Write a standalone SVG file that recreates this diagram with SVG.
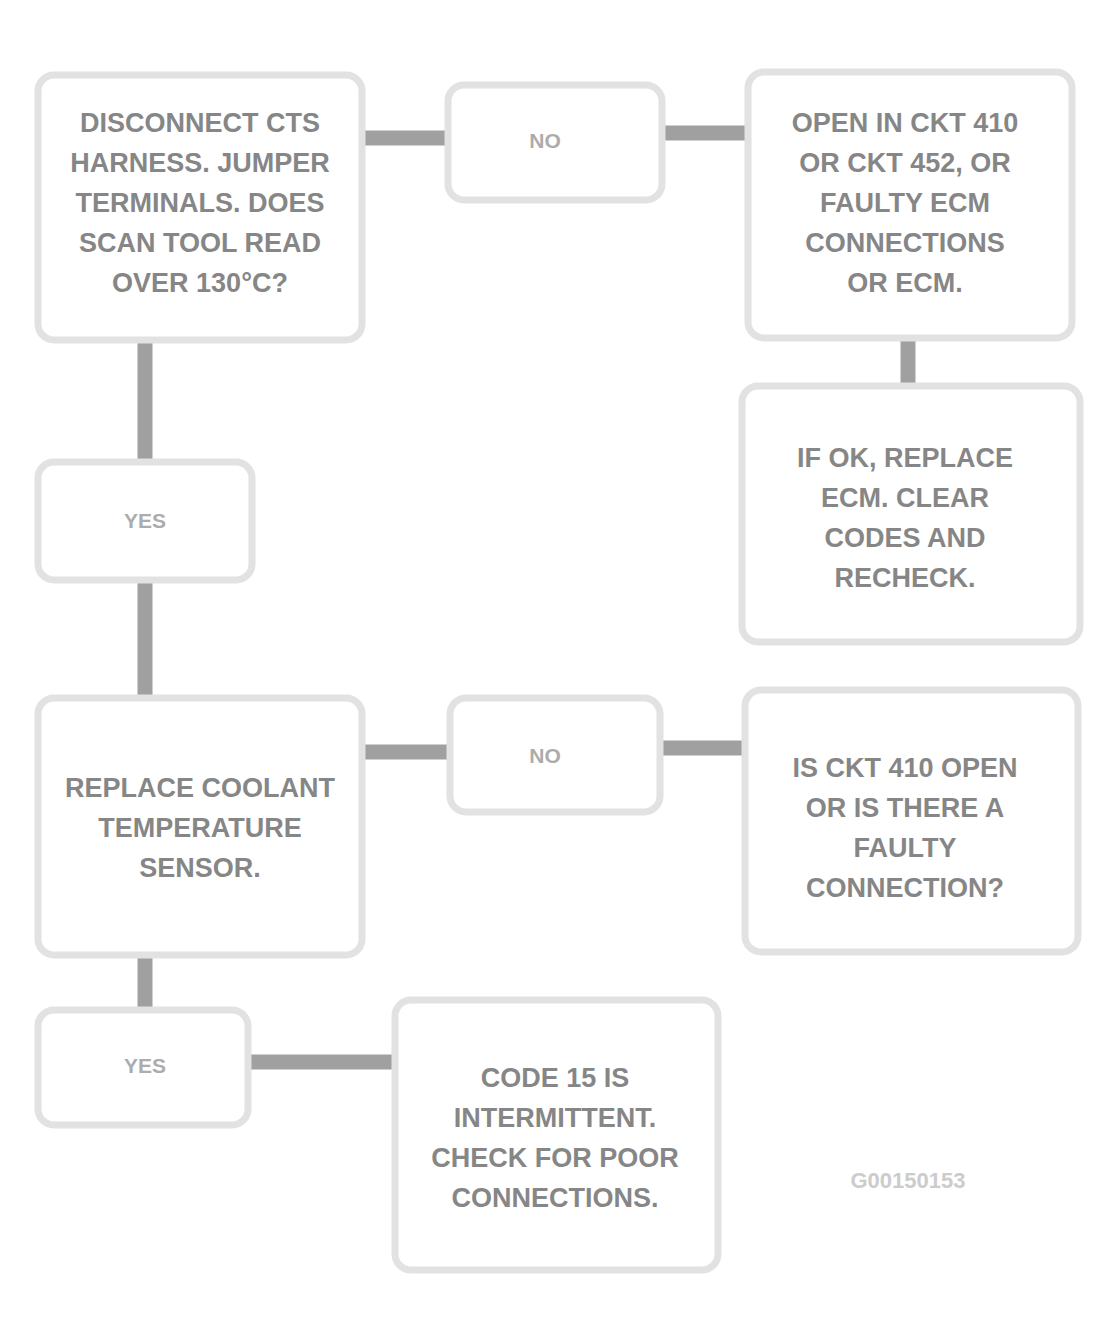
<svg xmlns="http://www.w3.org/2000/svg" width="1109" height="1340" viewBox="0 0 1109 1340">
<defs>
<style>
.box{fill:#ffffff;stroke:#e2e2e2;stroke-width:7}
.conn{stroke:#a0a0a0;stroke-width:15;fill:none}
.t{font-family:"Liberation Sans",Arial,sans-serif;font-weight:bold;font-size:27px;fill:#868686;text-anchor:middle}
.s{font-family:"Liberation Sans",Arial,sans-serif;font-weight:bold;font-size:21px;fill:#acacac;text-anchor:middle}
.lbl{font-family:"Liberation Sans",Arial,sans-serif;font-weight:bold;font-size:22px;fill:#cccccc;text-anchor:middle}
</style>
</defs>
<rect width="1109" height="1340" fill="#ffffff"/>
<g id="connectors">
<line class="conn" x1="362" y1="138" x2="448" y2="138"/>
<line class="conn" x1="662" y1="133" x2="748" y2="133"/>
<line class="conn" x1="908" y1="338" x2="908" y2="386"/>
<line class="conn" x1="145" y1="340" x2="145" y2="462"/>
<line class="conn" x1="145" y1="580" x2="145" y2="698"/>
<line class="conn" x1="362" y1="752" x2="450" y2="752"/>
<line class="conn" x1="660" y1="748" x2="745" y2="748"/>
<line class="conn" x1="145" y1="955" x2="145" y2="1010"/>
<line class="conn" x1="248" y1="1062" x2="395" y2="1062"/>
</g>
<g id="nodeA">
<rect class="box" x="38" y="75" width="324" height="265" rx="16"/>
<text class="t" x="200" y="132">DISCONNECT CTS</text>
<text class="t" x="200" y="172">HARNESS. JUMPER</text>
<text class="t" x="200" y="212">TERMINALS. DOES</text>
<text class="t" x="200" y="252">SCAN TOOL READ</text>
<text class="t" x="200" y="292">OVER 130°C?</text>
</g>
<g id="nodeB">
<rect class="box" x="448" y="85" width="214" height="115" rx="16"/>
<text class="s" x="545" y="148">NO</text>
</g>
<g id="nodeC">
<rect class="box" x="748" y="72" width="324" height="266" rx="16"/>
<text class="t" x="905" y="132">OPEN IN CKT 410</text>
<text class="t" x="905" y="172">OR CKT 452, OR</text>
<text class="t" x="905" y="212">FAULTY ECM</text>
<text class="t" x="905" y="252">CONNECTIONS</text>
<text class="t" x="905" y="292">OR ECM.</text>
</g>
<g id="nodeD">
<rect class="box" x="742" y="386" width="338" height="256" rx="16"/>
<text class="t" x="905" y="467">IF OK, REPLACE</text>
<text class="t" x="905" y="507">ECM. CLEAR</text>
<text class="t" x="905" y="547">CODES AND</text>
<text class="t" x="905" y="587">RECHECK.</text>
</g>
<g id="nodeE">
<rect class="box" x="38" y="462" width="214" height="118" rx="16"/>
<text class="s" x="145" y="528">YES</text>
</g>
<g id="nodeF">
<rect class="box" x="38" y="698" width="324" height="257" rx="16"/>
<text class="t" x="200" y="797">REPLACE COOLANT</text>
<text class="t" x="200" y="837">TEMPERATURE</text>
<text class="t" x="200" y="877">SENSOR.</text>
</g>
<g id="nodeG">
<rect class="box" x="450" y="698" width="210" height="114" rx="16"/>
<text class="s" x="545" y="763">NO</text>
</g>
<g id="nodeH">
<rect class="box" x="745" y="690" width="333" height="262" rx="16"/>
<text class="t" x="905" y="777">IS CKT 410 OPEN</text>
<text class="t" x="905" y="817">OR IS THERE A</text>
<text class="t" x="905" y="857">FAULTY</text>
<text class="t" x="905" y="897">CONNECTION?</text>
</g>
<g id="nodeI">
<rect class="box" x="38" y="1010" width="210" height="115" rx="16"/>
<text class="s" x="145" y="1073">YES</text>
</g>
<g id="nodeJ">
<rect class="box" x="395" y="1000" width="323" height="270" rx="16"/>
<text class="t" x="555" y="1087">CODE 15 IS</text>
<text class="t" x="555" y="1127">INTERMITTENT.</text>
<text class="t" x="555" y="1167">CHECK FOR POOR</text>
<text class="t" x="555" y="1207">CONNECTIONS.</text>
</g>
<text class="lbl" x="908" y="1188">G00150153</text>
</svg>
